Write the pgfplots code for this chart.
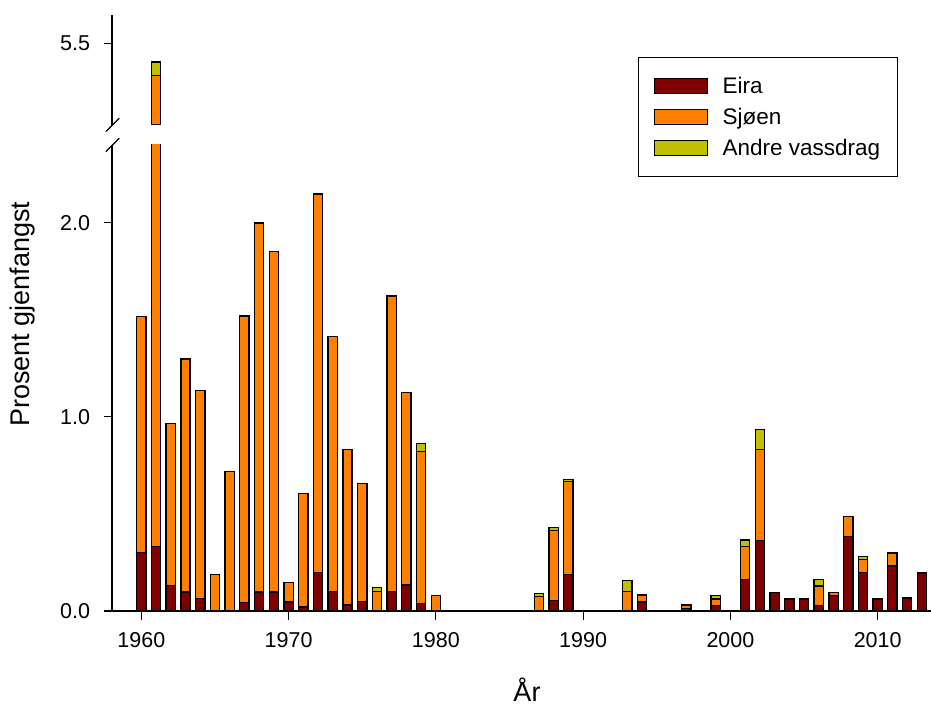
\documentclass[border=0pt]{standalone}
\usepackage{fontspec}
\setmainfont{Liberation Sans}
\usepackage{pgfplots}
\usepackage{pgfplotstable}
\pgfplotsset{compat=1.18}

\definecolor{eira}{RGB}{128,0,0}
\definecolor{sjoen}{RGB}{255,128,0}
\definecolor{andre}{RGB}{192,192,0}

% Prosent gjenfangst per år: Eira, Sjøen, Andre vassdrag
\pgfplotstableread{
year eira  sjoen andre
1960 0.302 1.214 0
1961 0.331 5.002 0.070
1962 0.132 0.832 0
1963 0.098 1.200 0
1964 0.065 1.069 0
1965 0     0.189 0
1966 0     0.719 0
1967 0.045 1.475 0
1968 0.098 1.900 0
1969 0.098 1.753 0
1970 0.046 0.102 0
1971 0.021 0.583 0
1972 0.197 1.951 0
1973 0.101 1.312 0
1974 0.031 0.801 0
1975 0.048 0.607 0
1976 0     0.101 0.021
1977 0.101 1.522 0
1978 0.134 0.993 0
1979 0.038 0.785 0.041
1980 0     0.079 0
1987 0     0.076 0.014
1988 0.055 0.360 0.014
1989 0.187 0.480 0.012
1993 0     0.101 0.055
1994 0.046 0.036 0
1997 0.012 0.019 0
1999 0.029 0.033 0.019
2001 0.163 0.170 0.032
2002 0.364 0.468 0.101
2003 0.096 0     0
2004 0.062 0     0
2005 0.062 0     0
2006 0.029 0.100 0.034
2007 0.081 0.015 0
2008 0.384 0.103 0
2009 0.197 0.067 0.016
2010 0.062 0     0
2011 0.232 0.066 0
2012 0.067 0     0
2013 0.196 0     0
}\datatable

\pgfplotsset{
  brokenaxis/.style={
    scale only axis, width=819pt,
    xmin=1958.01, xmax=2013.62,
    ybar stacked, bar width=0.63,
    axis line style={line width=1.2pt, black},
    tick style={line width=1.2pt, black},
    major tick length=8.5pt, tick align=outside,
    ytick pos=left,
    tick label style={font=\fontsize{21.5}{25}\selectfont},
    /pgf/number format/assume math mode=true,
    yticklabel style={xshift=-10pt, /pgf/number format/.cd, fixed, fixed zerofill, precision=1},
    every axis plot/.append style={draw=black, line width=1.3pt},
  },
}

\begin{document}
\begin{tikzpicture}
\useasboundingbox (0,0) rectangle (931pt,706pt);

% lower part of the broken y axis
\begin{axis}[
  brokenaxis,
  at={(112pt,95pt)}, anchor=south west, height=466pt,
  ymin=0, ymax=2.4,
  axis x line*=bottom, axis y line*=left,
  xtick={1960,1970,...,2010},
  xticklabel style={yshift=-9.5pt, /pgf/number format/1000 sep={}},
  ytick={0,1,2},
  xlabel={År}, ylabel={Prosent gjenfangst},
  label style={font=\fontsize{27}{32}\selectfont},
  xlabel style={at={(rel axis cs:0.5067,-0.168)}, anchor=center},
  ylabel style={at={(rel axis cs:-0.1087,0.637)}, anchor=center},
  legend style={at={(rel axis cs:0.6423,1.1888)}, anchor=north west,
    draw=black, line width=1pt, font=\fontsize{22.5}{27}\selectfont,
    inner xsep=15pt, inner ysep=18pt, row sep=9pt},
  legend cell align=left,
  legend image code/.code={%
    \draw[#1, line width=1pt] (0pt,-7.5pt) rectangle (53pt,7.5pt);
    \path (66pt,0pt);},
]
\addplot[fill=eira]  table[x=year, y=eira]  {\datatable};
\addplot[fill=sjoen] table[x=year, y=sjoen] {\datatable};
\addplot[fill=andre] table[x=year, y=andre] {\datatable};
\legend{Eira, Sjøen, Andre vassdrag}
\end{axis}

% upper part of the broken y axis: only the 1961 bar reaches it
\begin{axis}[
  brokenaxis,
  at={(112pt,581pt)}, anchor=south west, height=110pt,
  ymin=5.0795, ymax=5.6457,
  axis x line=none, axis y line*=left,
  ytick={5.5},
  restrict x to domain=1960.5:1961.5,
]
\addplot[fill=eira]  table[x=year, y=eira]  {\datatable};
\addplot[fill=sjoen] table[x=year, y=sjoen] {\datatable};
\addplot[fill=andre] table[x=year, y=andre] {\datatable};
\end{axis}

% break marks on the y axis
\draw[line width=1.2pt] (105.7pt,574.3pt) -- (119.3pt,587.7pt);
\draw[line width=1.2pt] (105.7pt,554.3pt) -- (119.3pt,567.7pt);
\end{tikzpicture}
\end{document}
